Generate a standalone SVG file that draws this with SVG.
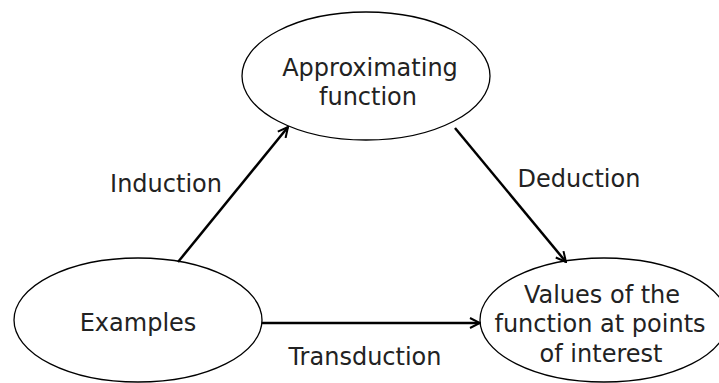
<svg xmlns="http://www.w3.org/2000/svg" width="719" height="383" viewBox="0 0 719 383">
<defs>
<marker id="arr" viewBox="0 0 12 12" refX="11" refY="6" markerWidth="12" markerHeight="12" markerUnits="userSpaceOnUse" orient="auto">
<path d="M1,1 L11,6 L1,11" fill="none" stroke="#000" stroke-width="2"/>
</marker>
<style>
.node ellipse{fill:#fff;stroke:#000;stroke-width:1.3}
text{font-family:"DejaVu Sans",sans-serif;font-size:24px;fill:#222;text-anchor:middle}
.edge{stroke:#000;stroke-width:2.5;fill:none;marker-end:url(#arr)}
</style>
</defs>
<rect width="719" height="383" fill="#fff"/>
<g id="n-approx" class="node">
<ellipse cx="366" cy="76" rx="124" ry="64"/>
<text x="370" y="76">Approximating</text>
<text x="368" y="105">function</text>
</g>
<g id="n-examples" class="node">
<ellipse cx="138" cy="320" rx="124" ry="62"/>
<text x="138" y="331">Examples</text>
</g>
<g id="n-values" class="node">
<ellipse cx="604" cy="320" rx="124" ry="62"/>
<text x="602" y="303">Values of the</text>
<text x="600" y="332">function at points</text>
<text x="601" y="362">of interest</text>
</g>
<g id="edges">
<path class="edge" d="M178,262 L288,127"/>
<path class="edge" d="M455,128 L566,262"/>
<path class="edge" d="M262,323 L480,323"/>
<text x="166" y="192">Induction</text>
<text x="579" y="187">Deduction</text>
<text x="365" y="365">Transduction</text>
</g>
</svg>
